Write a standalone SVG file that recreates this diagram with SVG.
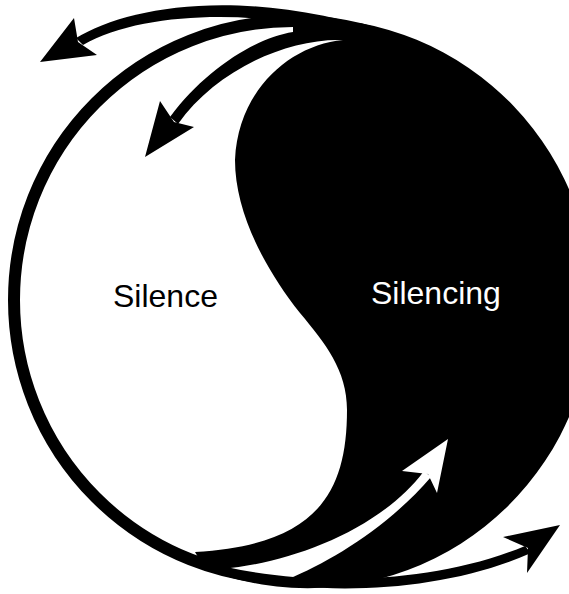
<svg xmlns="http://www.w3.org/2000/svg" width="569" height="594" viewBox="0 0 569 594">
<style>
.ink{fill:#000}
.paper{fill:#fff}
.ring{fill:none;stroke:#000;stroke-width:12}
.lbl{font-family:"Liberation Sans",Arial,Helvetica,sans-serif;font-size:32px}
</style>
<rect width="569" height="594" fill="#fff"/>
<g id="ring"><circle class="ring" cx="293" cy="300" r="279"/></g>
<g id="silencing">
<path class="ink" d="M343,40 C290,45 238,90 235,160 C235,210 262,265 300,313 C325,343 347,370 347,410 C347,495 315,545 195,552 L205,569 A285,285 0 1 0 360,23 L330,28 Z"/>
<text class="lbl" x="371" y="304" fill="#fff">Silencing</text>
</g>
<g id="silence"><text class="lbl" x="113" y="307" fill="#000">Silence</text></g>
<g id="connectors">
<g id="arrow-up-white">
<path class="paper" d="M222,569 C290,563 380,530 424,471 L431,477 C388,527 330,562 288,579 Z"/>
<polygon class="paper" points="448,439 402,471 428,474 437,493"/>
</g>
<g id="arrow-bottom">
<path class="ink" d="M200,560 C280,585 420,590 525,546 L531,553 C430,598 285,598 195,565 Z"/>
<polygon class="ink" points="560,525 503,537 528,548 527,573"/>
</g>
<g id="arrow-top">
<path class="ink" d="M76,38 C130,5 250,-15 400,37 L330,30 C250,10 140,12 83,45 Z"/>
<polygon class="ink" points="40,62 74,18 78,42 97,55"/>
</g>
<g id="arrow-inner">
<path class="ink" d="M293,32 C255,38 205,70 170,117 L178,124 C215,72 285,38 343,40 L362,30 L330,20 L293,26 Z"/>
<polygon class="ink" points="145,157 160,101 174,122 194,127"/>
</g>
</g>
</svg>
